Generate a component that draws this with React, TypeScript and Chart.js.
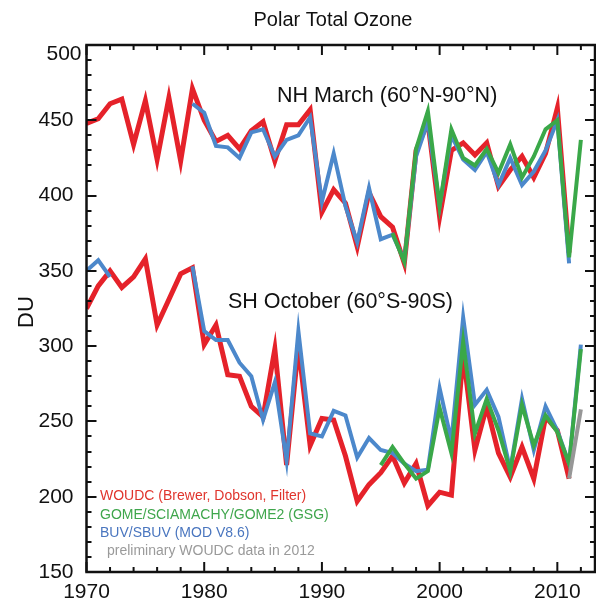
import React, { useEffect, useRef } from "react";
import { Chart, registerables } from "chart.js";

Chart.register(...registerables);

const FONT = "'Liberation Sans', Arial, Helvetica, sans-serif";

const years = [
  1970, 1971, 1972, 1973, 1974, 1975, 1976, 1977, 1978, 1979,
  1980, 1981, 1982, 1983, 1984, 1985, 1986, 1987, 1988, 1989,
  1990, 1991, 1992, 1993, 1994, 1995, 1996, 1997, 1998, 1999,
  2000, 2001, 2002, 2003, 2004, 2005, 2006, 2007, 2008, 2009,
  2010, 2011, 2012,
];

// NH March (60°N-90°N)
const nhWoudc = [
  448, 451, 461, 464, 434, 463, 424, 465, 423, 471,
  450, 436, 440, 431, 443, 449, 423, 447, 447, 457,
  389, 404, 395, 366, 402, 386, 379, 355, 430, 449,
  386, 430, 435, 427, 435, 406, 417, 426, 412, 428,
  458, 362, null,
];
const nhSbuv = [
  null, null, null, null, null, null, null, null, null, 461,
  455, 433, 432, 425, 442, 444, 426, 437, 440, 452,
  396, 428, 393, 369, 405, 371, 374, 357, 426, 449,
  393, 440, 424, 417, 429, 407, 425, 407, 416, 430,
  450, 355, null,
];
const nhGsg = [
  null, null, null, null, null, null, null, null, null, null,
  null, null, null, null, null, null, null, null, null, null,
  null, null, null, null, null, null, 375, 356, 431, 456,
  393, 444, 425, 420, 431, 415, 434, 412, 426, 444,
  450, 359, 437,
];

// SH October (60°S-90°S)
const shWoudc = [
  325, 340, 350, 339, 346, 358, 314, 331, 348, 352,
  301, 314, 281, 280, 260, 253, 298, 221, 300, 234,
  252, 251, 227, 197, 208, 216, 227, 209, 222, 194,
  203, 201, 295, 231, 260, 229, 213, 233, 212, 253,
  244, 212, null,
];
const shSbuv = [
  350, 357, 346, null, null, null, null, null, null, 353,
  310, 304, 304, 289, 280, 251, 276, 224, 310, 242,
  240, 257, 254, 226, 239, 231, 229, 222, 217, 218,
  272, 237, 319, 261, 271, 253, 218, 265, 231, 260,
  244, 222, 301,
];
const shGsg = [
  null, null, null, null, null, null, null, null, null, null,
  null, null, null, null, null, null, null, null, null, null,
  null, null, null, null, null, 221, 233, 222, 212, 217,
  259, 229, 303, 242, 265, 244, 217, 261, 234, 254,
  243, 222, 298,
];
const shPrelim = [
  null, null, null, null, null, null, null, null, null, null,
  null, null, null, null, null, null, null, null, null, null,
  null, null, null, null, null, null, null, null, null, null,
  null, null, null, null, null, null, null, null, null, null,
  null, 212, 258,
];

const xTickLabels = [1970, 1980, 1990, 2000, 2010];
const yTickLabels = [150, 200, 250, 300, 350, 400, 450, 500];

const titleText = "Polar Total Ozone";
const yAxisTitle = "DU";
const nhLabel = "NH March (60°N-90°N)";
const shLabel = "SH October (60°S-90S)";
const legendItems = [
  { text: "WOUDC (Brewer, Dobson, Filter)", color: "#e0352d", indent: 0 },
  { text: "GOME/SCIAMACHY/GOME2 (GSG)", color: "#3fa64c", indent: 0 },
  { text: "BUV/SBUV (MOD V8.6)", color: "#4a76bf", indent: 0 },
  { text: "preliminary WOUDC data in 2012", color: "#9a9a9a", indent: 7 },
];

const RED = "#e5222a";
const GREEN = "#3aa849";
const BLUE = "#4c88cb";
const GRAY = "#979797";

const toPts = (vals: (number | null)[]) =>
  years.map((yr, i) => ({ x: yr, y: vals[i] }));

const framePlugin = {
  id: "frameTicks",
  afterDraw(chart: any) {
    const { ctx, chartArea: a, scales } = chart;
    const xs = scales.x;
    const ys = scales.y;
    ctx.save();
    ctx.strokeStyle = "#111";
    ctx.lineWidth = 2;
    ctx.beginPath();
    for (let v = 150; v <= 500; v += 10) {
      const py = Math.round(ys.getPixelForValue(v));
      const len = v % 50 === 0 ? 10 : 5;
      ctx.moveTo(a.left, py);
      ctx.lineTo(a.left + len, py);
      ctx.moveTo(a.right, py);
      ctx.lineTo(a.right - len, py);
    }
    for (let yr = 1970; yr <= 2013; yr += 2) {
      const px = xs.getPixelForValue(yr);
      const len = yr % 10 === 0 ? 10 : 5;
      ctx.moveTo(px, a.bottom);
      ctx.lineTo(px, a.bottom - len);
      ctx.moveTo(px, a.top);
      ctx.lineTo(px, a.top + len);
    }
    ctx.stroke();
    ctx.lineWidth = 2.5;
    ctx.strokeRect(a.left, a.top, a.right - a.left, a.bottom - a.top);

    ctx.fillStyle = "#111";
    ctx.textBaseline = "middle";

    // top y label sits just below the frame's top edge
    const topVal = yTickLabels[yTickLabels.length - 1];
    ctx.textAlign = "right";
    ctx.font = `21px ${FONT}`;
    ctx.fillText(String(topVal), a.left - 5, ys.getPixelForValue(topVal) + 9);

    ctx.textAlign = "center";
    ctx.font = `20px ${FONT}`;
    ctx.fillText(titleText, 333, 20);

    ctx.save();
    ctx.translate(27, 312);
    ctx.rotate(-Math.PI / 2);
    ctx.font = `22px ${FONT}`;
    ctx.fillText(yAxisTitle, 0, 0);
    ctx.restore();

    ctx.textAlign = "left";
    ctx.font = `21.5px ${FONT}`;
    ctx.fillText(nhLabel, 277, 96);
    ctx.fillText(shLabel, 228, 302);

    ctx.font = `14px ${FONT}`;
    const ly = [496, 515, 533, 551];
    legendItems.forEach((it, i) => {
      ctx.fillStyle = it.color;
      ctx.fillText(it.text, 100 + it.indent, ly[i]);
    });
    ctx.restore();
  },
};

export default function App() {
  const ref = useRef<HTMLCanvasElement | null>(null);
  useEffect(() => {
    if (!ref.current) return;
    const line = (data: (number | null)[], color: string, width: number, order: number) => ({
      data: toPts(data),
      borderColor: color,
      backgroundColor: color,
      borderWidth: width,
      pointRadius: 0,
      tension: 0,
      spanGaps: false,
      fill: false,
      order,
    });
    const chart = new Chart(ref.current, {
      type: "line",
      data: {
        datasets: [
          line(nhWoudc, RED, 5, 5),
          line(shWoudc, RED, 5, 5),
          line(nhSbuv, BLUE, 4, 4),
          line(shSbuv, BLUE, 4, 4),
          line(nhGsg, GREEN, 4, 3),
          line(shGsg, GREEN, 4, 3),
          line(shPrelim, GRAY, 4, 2),
        ] as any,
      },
      options: {
        animation: false,
        responsive: false,
        devicePixelRatio: 1,
        layout: { padding: { top: 45, right: 1, left: 0, bottom: 0 } },
        plugins: {
          legend: { display: false },
          tooltip: { enabled: false },
          title: { display: false },
        },
        scales: {
          x: {
            type: "linear",
            min: 1970,
            max: 2013.2,
            grid: { display: false },
            border: { display: false },
            afterBuildTicks: (s: any) => {
              s.ticks = xTickLabels.map((v) => ({ value: v }));
            },
            afterFit: (s: any) => {
              s.height = 27;
            },
            ticks: {
              autoSkip: false,
              maxRotation: 0,
              padding: 0,
              color: "#111",
              font: { family: FONT, size: 21 },
              callback: (v: any) => String(v),
            },
          },
          y: {
            type: "linear",
            min: 150,
            max: 500,
            grid: { display: false },
            border: { display: false },
            afterBuildTicks: (s: any) => {
              s.ticks = yTickLabels.map((v) => ({ value: v }));
            },
            afterFit: (s: any) => {
              s.width = 86.5;
            },
            ticks: {
              autoSkip: false,
              padding: 5,
              color: "#111",
              font: { family: FONT, size: 21 },
              callback: (v: any) => (v === yTickLabels[yTickLabels.length - 1] ? "" : String(v)),
            },
          },
        },
      },
      plugins: [framePlugin],
    });
    return () => chart.destroy();
  }, []);
  return (
    <div style={{ position: "fixed", left: 0, top: 0, width: 596, height: 599, background: "#fff" }}>
      <canvas ref={ref} width={596} height={599} style={{ display: "block" }} />
    </div>
  );
}
